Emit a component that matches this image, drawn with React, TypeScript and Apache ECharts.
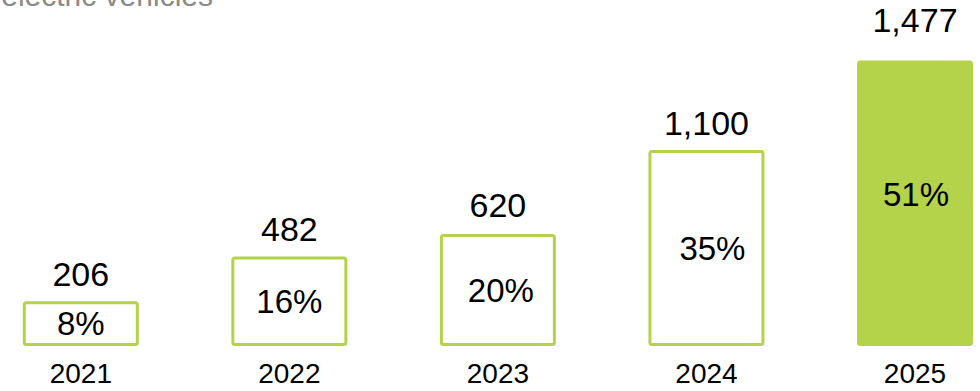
import React, { useEffect, useRef } from "react";
import * as echarts from "echarts";

const years = ["2021", "2022", "2023", "2024", "2025"];
const shares = [8, 16, 20, 35, 51];
const counts = [206, 482, 620, 1100, 1477];
const filledIndex = [false, false, false, false, true];

// label placement tweaks (layout only)
const countLabelGap = [10, 10, 12, 10, 23];
const shareLabelShift = [
  [0, 0],
  [0, 0],
  [3, 0],
  [6, 0],
  [1, -9],
];

const GREEN = "#b4d24a";
const FONT = "Liberation Sans, Arial, sans-serif";

export default function App() {
  const ref = useRef<HTMLDivElement>(null);
  useEffect(() => {
    if (!ref.current) return;
    const chart = echarts.init(ref.current, undefined, { renderer: "svg" });
    chart.setOption({
      animation: false,
      grid: { left: 80.8, right: 65, top: 10, bottom: 45, containLabel: false },
      graphic: [
        {
          type: "text",
          x: 213,
          y: -20,
          style: {
            text: "electric vehicles",
            fontSize: 30,
            fontFamily: FONT,
            fill: "#8a8a8a",
            align: "right",
            textAlign: "right",
            verticalAlign: "top",
            textVerticalAlign: "top",
          },
        },
      ],
      xAxis: {
        type: "category",
        data: years,
        boundaryGap: false,
        axisLine: { show: false },
        axisTick: { show: false },
        splitLine: { show: false },
        axisLabel: { fontSize: 28, color: "#000", fontFamily: FONT, margin: 13 },
      },
      yAxis: {
        type: "value",
        min: 0,
        max: 60,
        show: false,
        splitLine: { show: false },
      },
      series: [
        {
          type: "bar",
          barWidth: 116,
          clip: false,
          data: shares.map((v, i) => ({
            value: v,
            itemStyle: filledIndex[i]
              ? { color: GREEN, borderColor: GREEN, borderWidth: 3, borderRadius: 2 }
              : { color: "#ffffff", borderColor: GREEN, borderWidth: 3, borderRadius: 2 },
            label: { offset: shareLabelShift[i] },
          })),
          label: {
            show: true,
            position: "inside",
            fontSize: 33,
            fontFamily: FONT,
            color: "#000",
            formatter: (p: any) => `${shares[p.dataIndex]}%`,
          },
          z: 2,
        },
        {
          type: "bar",
          barWidth: 116,
          barGap: "-100%",
          clip: false,
          data: shares.map((v, i) => ({
            value: v,
            label: { distance: countLabelGap[i] },
          })),
          itemStyle: { color: "rgba(0,0,0,0)" },
          label: {
            show: true,
            position: "top",
            distance: 10,
            fontSize: 34,
            fontFamily: FONT,
            color: "#000",
            formatter: (p: any) => counts[p.dataIndex].toLocaleString("en-US"),
          },
          silent: true,
          z: 1,
        },
      ],
    });
    return () => chart.dispose();
  }, []);
  return (
    <div
      ref={ref}
      style={{ position: "absolute", left: 0, top: 0, width: 980, height: 391 }}
    />
  );
}
